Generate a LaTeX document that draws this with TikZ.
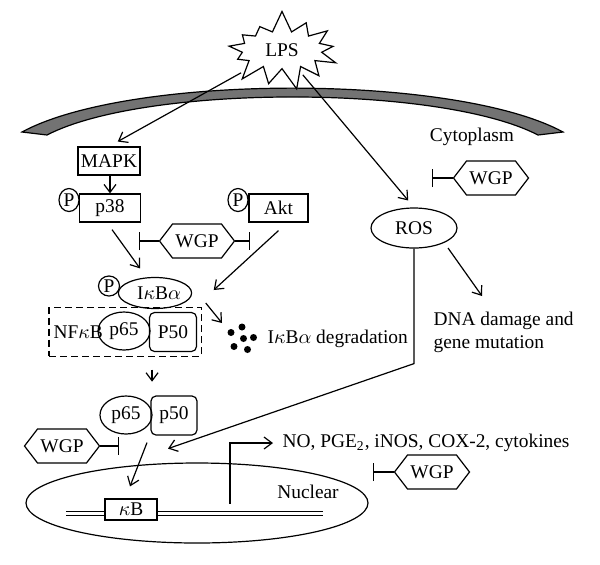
\documentclass[tikz,border=0pt]{standalone}
\usepackage{fontspec}
\setmainfont{Liberation Serif}
\usetikzlibrary{
    arrows.meta,
    fit,
    positioning,
    shapes.geometric,
    shapes.misc,
    shapes.symbols
}

\begin{document}
\begin{tikzpicture}[x=0.5pt, y=-0.5pt, line width=0.6pt,
    font=\fontsize{9.7}{11.6}\selectfont,
    act/.style={-{Straight Barb[length=4pt,width=6pt]}},
    inh/.style={-{Bar[width=9pt]}},
    kinase/.style={draw, rectangle, inner sep=0pt, minimum height=14pt},
    phos/.style={draw, fill=white, ellipse, inner sep=0pt, minimum width=10pt, minimum height=11.5pt},
    wgp/.style={draw, signal, signal to=west and east, signal pointer angle=105,
        inner sep=0pt, minimum width=37.5pt, minimum height=17pt}
]
    \useasboundingbox (0,0) rectangle (600,564);

    % Draw the cell membrane
    \draw[fill=black!55] (22,132) .. controls (130,73.5) and (455,73.5) .. (563,132)
        -- (538,135) .. controls (440,84.3) and (145,84.3) .. (47,135) -- cycle;

    % Stimulus
    \node[draw, fill=white, starburst, starburst points=13, starburst point height=11pt,
        random starburst=7, minimum width=62pt, minimum height=27pt] (lps) at (282,50) {LPS};

    % Kinases
    \node[kinase, minimum width=31pt] (mapk) at (109,161) {MAPK};
    \node[kinase, minimum width=30.5pt] (p38) at (110,208) {p38};
    \node[phos] (p38p) at (69,200) {P};
    \node[kinase, minimum width=29.5pt] (akt) at (278.5,208) {Akt};
    \node[phos] (aktp) at (238,200) {P};
    \node[wgp] (wgpa) at (197,241) {WGP};

    % Inactive complex
    \node[draw, ellipse, inner sep=0pt, minimum width=35.5pt, minimum height=15.5pt] (ikb) at (155,293) {\hspace{4pt}I$\kappa$B$\alpha$};
    \node[phos, minimum width=10.5pt, minimum height=10pt] (ikbp) at (109,286) {P};
    \node[anchor=west, inner sep=0pt] (nfkb) at (53,332) {NF$\kappa$B};
    \node[draw, ellipse, inner sep=0pt, minimum width=26pt, minimum height=19pt] (p65a) at (124,331) {p65};
    \node[draw, rounded corners=2.5pt, inner sep=0pt, minimum width=23.5pt, minimum height=19.5pt] (p50a) at (173,332) {P50};
    \node[draw, dashed, dash pattern=on 3.5pt off 2pt, fit=(nfkb)(p65a)(p50a), inner sep=2pt] (nfkbbox) {};

    % Degradation
    \foreach \dx/\dy in {242/327, 231/332.5, 243.5/338.5, 253.5/337.5, 234/346.5, 247.5/349.5}
        \fill (\dx,\dy) circle (1.75pt);
    \node[anchor=west, inner sep=0pt] (deg) at (267,339) {I$\kappa$B$\alpha$ degradation};

    % Oxidative stress
    \node[draw, ellipse, inner sep=0pt, minimum width=43pt, minimum height=20pt] (ros) at (414,228) {ROS};
    \node[anchor=west, align=left, inner sep=0pt] (dna) at (433,332.5) {DNA damage and\\gene mutation};
    \node (cyto) at (472,137) {Cytoplasm};
    \node[wgp] (wgpb) at (491,178) {WGP};

    % Active dimer
    \node[draw, ellipse, inner sep=0pt, minimum width=26pt, minimum height=19pt] (p65b) at (126,415) {p65};
    \node[draw, rounded corners=2.5pt, inner sep=0pt, minimum width=23pt, minimum height=19.5pt] (p50b) at (174,415.5) {p50};
    \node[wgp] (wgpc) at (62,446) {WGP};

    % Nucleus and gene
    \node[draw, ellipse, minimum width=171pt, minimum height=40pt] (nucleus) at (197,503) {};
    \node (nuc) at (308,492) {Nuclear};
    \coordinate (dnaL) at (66,513.5);
    \coordinate (dnaR) at (323,513.5);
    \draw[double, double distance=1.1pt, line width=0.5pt] (dnaL) -- (dnaR);
    \node[draw, fill=white, inner sep=0pt, minimum width=26pt, minimum height=10.5pt] (kb) at (131,509.5) {$\kappa$B};
    \node[anchor=west, inner sep=0pt] (no) at (282,443) {NO, PGE\textsubscript{2}, iNOS, COX-2, cytokines};
    \node[wgp] (wgpd) at (432,472) {WGP};

    % Signalling arrows
    \draw[act, shorten <=2pt, shorten >=5pt] (lps) -- (mapk.north);
    \draw[act, shorten <=2pt, shorten >=4.5pt] (lps) -- (ros.north);
    \draw[act] (mapk.south -| p38.north) -- (p38.north);
    \draw[act] ([shift={(2,7)}]p38.south) -- ([shift={(-15,-8.5)}]ikb.north);
    \draw[act] ([shift={(0,8)}]akt.south) -- ([shift={(21.5,-3)}]ikb.east);
    \draw[act] ([shift={(13.5,10)}]ikb.east) -- ([shift={(-45,-16)}]deg.west);
    \draw[act] ([shift={(27,13)}]nfkbbox.south) -- ([shift={(27,25)}]nfkbbox.south);
    \draw[act] ([shift={(21,8)}]p65b.south) -- ([shift={(-1,-12)}]kb.north);
    \draw[act] ([shift={(34,20)}]ros.center) -- ([shift={(68,68)}]ros.center);
    \draw[act] (ros.south) -- ++(0,115) -- ([shift={(-6,13)}]p50b.south);
    \draw[act, shorten >=4.5pt] ([shift={(-93,-10)}]dnaR) |- (no.west);

    % Inhibition by WGP
    \draw[inh] (wgpa.west) -- ++(-20,0);
    \draw[inh] (wgpa.east) -- ++(15,0);
    \draw[inh] (wgpb.west) -- ++(-21,0);
    \draw[inh] (wgpc.east) -- ++(19,0);
    \draw[inh] (wgpd.west) -- ++(-21,0);
\end{tikzpicture}
\end{document}
